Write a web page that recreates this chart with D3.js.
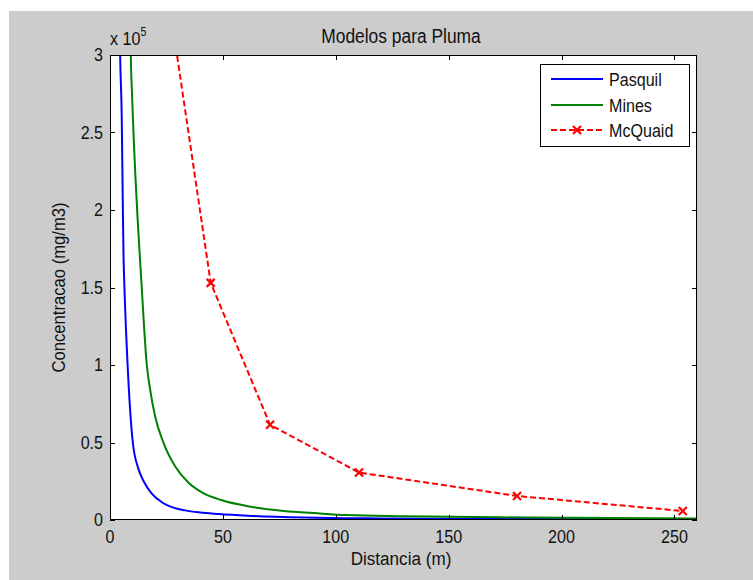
<!DOCTYPE html>
<html><head><meta charset="utf-8">
<script src="https://cdn.jsdelivr.net/npm/d3@7/dist/d3.min.js"></script>
<style>body{margin:0;background:#fff}svg{display:block}text{font-family:"Liberation Sans",Arial,sans-serif;fill:#111}</style>
</head><body><svg id="c" width="753" height="580"></svg>
<script>
const title = "Modelos para Pluma";
const xLabel = "Distancia (m)";
const yLabel = "Concentracao (mg/m3)";
const xTicks = [0, 50, 100, 150, 200, 250];
const yTicks = [0, 0.5, 1, 1.5, 2, 2.5, 3];
const seriesNames = ["Pasquil", "Mines", "McQuaid"];
// values in units of 1e5 mg/m3
const pasquilX = [4.2, 4.5, 5.2, 5.7, 6.0, 6.4, 7.8, 10.1, 12.6, 14.9, 18.5, 23.7, 33.3, 40, 48, 61, 86, 120, 185, 260];
const pasquilY = [3.3, 3.0, 2.6, 2.0, 1.7, 1.5, 1.0, 0.5, 0.33, 0.25, 0.17, 0.108, 0.062, 0.048, 0.039, 0.028, 0.016, 0.01, 0.006, 0.004];
const minesX = [8.9, 9.2, 9.8, 14.1, 16.3, 17.8, 20.0, 23.7, 28.9, 34.8, 40.7, 49.6, 62.3, 77, 92, 105, 130, 185, 260];
const minesY = [3.3, 3.0, 2.73, 1.49, 1.0, 0.84, 0.668, 0.498, 0.345, 0.24, 0.178, 0.127, 0.086, 0.058, 0.043, 0.032, 0.024, 0.016, 0.01];
const mcquaidX = [17.5, 44.6, 70.9, 110.3, 180.3, 253.7];
const mcquaidY = [4.2, 1.53, 0.614, 0.306, 0.155, 0.058];

const svg = d3.select("#c");
svg.append("rect").attr("x", 9).attr("y", 11).attr("width", 744).attr("height", 569).attr("fill", "#cccccc");

const L = 110, R = 697, T = 55, B = 520;
const x = d3.scaleLinear().domain([0, 260]).range([L, R]);
const y = d3.scaleLinear().domain([0, 3]).range([B, T]);

svg.append("rect").attr("x", L).attr("y", T).attr("width", R - L).attr("height", B - T).attr("fill", "#fff");

svg.append("clipPath").attr("id", "clip").append("rect").attr("x", L).attr("y", T).attr("width", R - L).attr("height", B - T);
const g = svg.append("g").attr("clip-path", "url(#clip)");

const line = d3.line().x(d => x(d[0])).y(d => y(d[1]));
const smooth = d3.line().x(d => x(d[0])).y(d => y(d[1])).curve(d3.curveMonotoneX);
const pas = pasquilX.map((v, i) => [v, pasquilY[i]]);
const min = minesX.map((v, i) => [v, minesY[i]]);
const mcq = mcquaidX.map((v, i) => [v, mcquaidY[i]]);

g.append("path").attr("d", smooth(pas)).attr("fill", "none").attr("stroke", "#0000ff").attr("stroke-width", 2);
g.append("path").attr("d", smooth(min)).attr("fill", "none").attr("stroke", "#008000").attr("stroke-width", 2);
g.append("path").attr("d", line(mcq)).attr("fill", "none").attr("stroke", "#ff0000").attr("stroke-width", 2).attr("stroke-dasharray", "6,3");

function cross(sel, cx, cy, s) {
  sel.append("path").attr("d", `M${cx - s},${cy - s}L${cx + s},${cy + s}M${cx - s},${cy + s}L${cx + s},${cy - s}`)
    .attr("stroke", "#ff0000").attr("stroke-width", 2.2).attr("fill", "none");
}
mcq.forEach(d => cross(g, x(d[0]), y(d[1]), 4));

// axes (ticks inside, box)
const ax = svg.append("g").attr("stroke", "#000").attr("stroke-width", 1);
ax.append("rect").attr("x", L + 0.5).attr("y", T + 0.5).attr("width", R - L - 1).attr("height", B - T - 1).attr("fill", "none");
const tl = 5;
xTicks.forEach(t => {
  const px = Math.round(x(t)) + 0.5;
  ax.append("line").attr("x1", px).attr("x2", px).attr("y1", B).attr("y2", B - tl);
  ax.append("line").attr("x1", px).attr("x2", px).attr("y1", T).attr("y2", T + tl);
});
yTicks.forEach(t => {
  const py = Math.round(y(t)) + 0.5;
  ax.append("line").attr("x1", L).attr("x2", L + tl).attr("y1", py).attr("y2", py);
  ax.append("line").attr("x1", R).attr("x2", R - tl).attr("y1", py).attr("y2", py);
});

// narrow, tall text like the reference
function txt(sel, px, py, s, size, anchor, sx, rot) {
  const tr = `translate(${px},${py})` + (rot ? ` rotate(${rot})` : "") + ` scale(${sx},1)`;
  return sel.append("text").attr("transform", tr).attr("font-size", size).attr("text-anchor", anchor || "start").text(s);
}
const fs = 18.5, sx = 0.87;
xTicks.forEach(t => txt(svg, x(t), 542.5, t, fs, "middle", sx));
yTicks.forEach(t => txt(svg, 103, y(t) + 6, t, fs, "end", sx));
const ex = txt(svg, 110, 45, "", fs, "start", sx);
ex.append("tspan").text("x 10");
ex.append("tspan").attr("dy", -9).attr("font-size", 12).text("5");

txt(svg, 401, 42.7, title, 20, "middle", 0.87);
txt(svg, 401, 565, xLabel, 19, "middle", 0.9);
txt(svg, 65, (T + B) / 2, yLabel, 18.5, "middle", 0.9, -90);

// legend
const lg = svg.append("g");
lg.append("rect").attr("x", 540.5).attr("y", 64.5).attr("width", 149).attr("height", 82).attr("fill", "#fff").attr("stroke", "#000");
const colors = ["#0000ff", "#008000", "#ff0000"];
const ly = [79, 105, 130];
seriesNames.forEach((n, i) => {
  const l = lg.append("line").attr("x1", 551).attr("x2", 603).attr("y1", ly[i]).attr("y2", ly[i]).attr("stroke", colors[i]).attr("stroke-width", 2);
  if (i === 2) { l.attr("stroke-dasharray", "6,3"); cross(lg, 577, ly[i], 4); }
  txt(lg, 609, ly[i] + 7, n, 18.5, "start", 0.87);
});
</script></body></html>
